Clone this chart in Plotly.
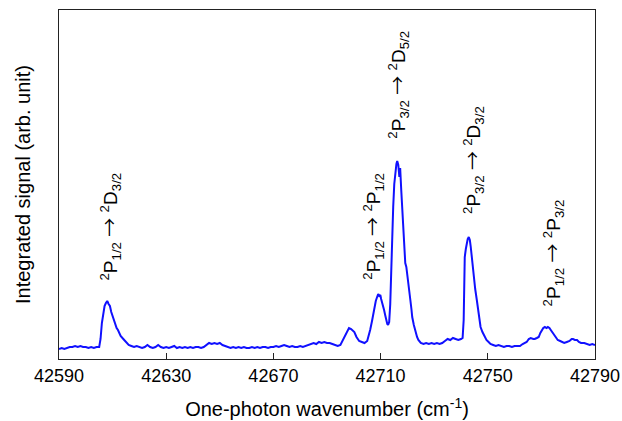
import plotly.graph_objects as go

# ---- data ----
wavenumber = [
    42590, 42591, 42592, 42593, 42594, 42595, 42596, 42597, 42598, 42599,
    42600, 42601, 42602, 42603, 42604, 42605, 42605.5, 42606, 42606.5, 42607,
    42607.5, 42608, 42608.5, 42609, 42609.5, 42610, 42610.5, 42611, 42611.5, 42612,
    42612.5, 42613, 42614, 42615, 42616, 42617, 42618, 42619, 42620, 42621,
    42622, 42623, 42624, 42625, 42626, 42627, 42628, 42629, 42630, 42631,
    42632, 42633, 42634, 42635, 42636, 42637, 42638, 42639, 42640, 42641,
    42642, 42643, 42644, 42645, 42646, 42647, 42648, 42649, 42650, 42651,
    42652, 42653, 42654, 42655, 42656, 42657, 42658, 42659, 42660, 42661,
    42662, 42663, 42664, 42665, 42666, 42667, 42668, 42669, 42670, 42671,
    42672, 42673, 42674, 42675, 42676, 42677, 42678, 42679, 42680, 42681,
    42682, 42683, 42684, 42685, 42686, 42687, 42688, 42689, 42690, 42691,
    42692, 42693, 42694, 42695, 42696, 42696.7, 42697.5, 42698.2, 42699, 42699.5,
    42700.2, 42701, 42702, 42703, 42704, 42705, 42705.5, 42706.1, 42706.8, 42707.6,
    42708.2, 42708.7, 42709.1, 42709.5, 42709.9, 42710.2, 42710.8, 42711.3, 42711.7, 42712.1,
    42712.5, 42712.8, 42713.2, 42713.6, 42713.9, 42714.3, 42714.7, 42715.1, 42715.5, 42715.9,
    42716.2, 42716.6, 42717.0, 42717.3, 42717.7, 42718.1, 42718.5, 42718.9, 42719.2, 42719.6,
    42719.9, 42720.3, 42720.7, 42721.1, 42721.5, 42721.8, 42722.4, 42723.0, 42723.6, 42724.1,
    42725, 42726, 42727, 42728, 42729, 42730, 42731, 42732, 42733, 42734,
    42735, 42736, 42737, 42738, 42739, 42740, 42740.6, 42741.0, 42741.4, 42741.8,
    42742.1, 42742.5, 42742.9, 42743.3, 42743.6, 42744.0, 42744.4, 42744.8, 42745.3, 42745.9,
    42746.6, 42747.3, 42748, 42748.8, 42749.5, 42750.3, 42751, 42752, 42753, 42754,
    42755, 42756, 42757, 42758, 42759, 42760, 42761, 42762, 42763, 42764.5,
    42765.3, 42766, 42767, 42767.5, 42768.3, 42769, 42769.6, 42770.1, 42770.7, 42771.3,
    42771.9, 42772.4, 42773, 42773.5, 42774, 42774.6, 42775.3, 42776.1, 42777, 42777.6,
    42778.5, 42779.5, 42780.5, 42781.3, 42781.8, 42782.5, 42783.3, 42784, 42784.8, 42786,
    42787, 42788, 42789, 42790,
]
signal = [
    0.10, 0.11, 0.10, 0.11, 0.12, 0.12, 0.13, 0.12, 0.13, 0.12,
    0.12, 0.11, 0.12, 0.11, 0.12, 0.12, 0.20, 0.36, 0.47, 0.53,
    0.56, 0.58, 0.55, 0.53, 0.47, 0.43, 0.38, 0.36, 0.31, 0.29,
    0.26, 0.23, 0.20, 0.17, 0.14, 0.13, 0.12, 0.13, 0.12, 0.11,
    0.12, 0.14, 0.12, 0.11, 0.12, 0.14, 0.12, 0.11, 0.12, 0.11,
    0.12, 0.13, 0.11, 0.12, 0.11, 0.12, 0.11, 0.12, 0.11, 0.12,
    0.12, 0.11, 0.12, 0.14, 0.16, 0.15, 0.16, 0.15, 0.16, 0.14,
    0.13, 0.12, 0.11, 0.12, 0.11, 0.12, 0.11, 0.12, 0.11, 0.11,
    0.12, 0.11, 0.12, 0.11, 0.12, 0.12, 0.11, 0.12, 0.12, 0.13,
    0.12, 0.13, 0.14, 0.13, 0.12, 0.13, 0.12, 0.12, 0.13, 0.12,
    0.13, 0.14, 0.15, 0.16, 0.15, 0.17, 0.16, 0.17, 0.16, 0.16,
    0.15, 0.14, 0.13, 0.14, 0.19, 0.23, 0.28, 0.31, 0.30, 0.29,
    0.27, 0.22, 0.18, 0.17, 0.16, 0.18, 0.22, 0.29, 0.38, 0.51,
    0.58, 0.62, 0.65, 0.63, 0.64, 0.60, 0.55, 0.49, 0.44, 0.39,
    0.35, 0.34, 0.37, 0.55, 0.86, 1.20, 1.52, 1.75, 1.89, 1.95,
    1.98, 1.94, 1.82, 1.91, 1.69, 1.52, 1.36, 1.12, 0.96, 0.92,
    0.84, 0.76, 0.68, 0.59, 0.50, 0.42, 0.34, 0.27, 0.22, 0.19,
    0.16, 0.15, 0.16, 0.15, 0.16, 0.15, 0.16, 0.15, 0.16, 0.18,
    0.20, 0.19, 0.21, 0.20, 0.19, 0.20, 0.21, 0.39, 1.02, 1.10,
    1.17, 1.20, 1.22, 1.19, 1.13, 1.02, 0.92, 0.82, 0.70, 0.59,
    0.46, 0.32, 0.27, 0.23, 0.19, 0.17, 0.15, 0.14, 0.13, 0.14,
    0.13, 0.12, 0.13, 0.13, 0.12, 0.13, 0.13, 0.13, 0.15, 0.17,
    0.20, 0.21, 0.20, 0.20, 0.21, 0.22, 0.26, 0.29, 0.31, 0.32,
    0.31, 0.32, 0.31, 0.29, 0.27, 0.24, 0.21, 0.19, 0.18, 0.17,
    0.16, 0.17, 0.18, 0.20, 0.20, 0.19, 0.19, 0.17, 0.16, 0.16,
    0.15, 0.14, 0.15, 0.14,
]

x_ticks = [42590, 42630, 42670, 42710, 42750, 42790]

ARROW = "<span style=\"font-family:'Noto Sans CJK JP'\">→</span>"
label_texts = [
    f"<sup>2</sup>P<sub>1/2</sub> {ARROW} <sup>2</sup>D<sub>3/2</sub>",
    f"<sup>2</sup>P<sub>1/2</sub> {ARROW} <sup>2</sup>P<sub>1/2</sub>",
    f"<sup>2</sup>P<sub>3/2</sub> {ARROW} <sup>2</sup>D<sub>5/2</sub>",
    f"<sup>2</sup>P<sub>3/2</sub> {ARROW} <sup>2</sup>D<sub>3/2</sub>",
    f"<sup>2</sup>P<sub>1/2</sub> {ARROW} <sup>2</sup>P<sub>3/2</sub>",
]
label_x = [42608.5, 42706.7, 42716.0, 42744.1, 42774.1]
label_y = [1.32, 1.33, 2.74, 1.99, 1.06]

FONT = "Liberation Sans, Arial, Helvetica, sans-serif"

fig = go.Figure()
fig.add_trace(go.Scatter(
    x=wavenumber, y=signal, mode="lines",
    line=dict(color="#1010ff", width=2),
    showlegend=False,
))

for t, lx, ly in zip(label_texts, label_x, label_y):
    fig.add_annotation(
        x=lx, y=ly, xref="x", yref="y", text=t, showarrow=False,
        textangle=-90, xanchor="center", yanchor="middle",
        font=dict(family=FONT, size=19, color="black"),
    )

fig.update_layout(
    width=622, height=421,
    margin=dict(l=59, r=27, t=10, b=62),
    paper_bgcolor="white", plot_bgcolor="white",
    font=dict(family=FONT, color="black"),
    xaxis=dict(
        range=[42590, 42790], tickvals=x_ticks,
        ticktext=[str(v) for v in x_ticks],
        ticks="inside", ticklen=6, tickwidth=1, tickcolor="#222",
        showline=True, linecolor="#222", linewidth=1, mirror=True,
        showgrid=False, zeroline=False,
        tickfont=dict(family=FONT, size=18),
        title=dict(text="One-photon wavenumber (cm<sup>-1</sup>)",
                   font=dict(family=FONT, size=20), standoff=17),
        automargin=False,
    ),
    yaxis=dict(
        range=[0, 3.49], showticklabels=False, ticks="",
        showline=True, linecolor="#222", linewidth=1, mirror=True,
        showgrid=False, zeroline=False,
        title=dict(text="Integrated signal (arb. unit)",
                   font=dict(family=FONT, size=20), standoff=22),
        automargin=False,
    ),
)

fig.write_html("out.html")
